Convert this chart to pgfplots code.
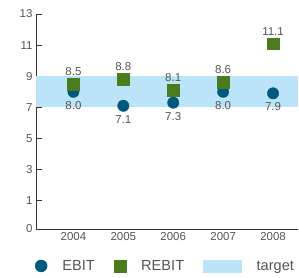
\documentclass[border=0pt]{standalone}
\usepackage{pgfplots}
\pgfplotsset{compat=1.18}
\usepackage{fontspec}
\setmainfont{Liberation Sans}
\definecolor{ebit}{HTML}{00587F}
\definecolor{rebit}{HTML}{4B7B1D}
\definecolor{band}{HTML}{BBE4F8}
\definecolor{txt}{HTML}{555555}
\definecolor{axc}{HTML}{333333}
\begin{document}
\begin{tikzpicture}
\begin{axis}[
  scale only axis,
  width=262pt, height=215pt,
  xmin=-0.75, xmax=4.5,
  ymin=-0.82, ymax=13,
  axis x line*=bottom, axis y line*=left,
  axis line style={-, draw=axc, line width=0.8pt},
  ytick={-0.82,1,3,5,7,9,11,13},
  yticklabels={0,1,3,5,7,9,11,13},
  xtick={0,1,2,3,4},
  xticklabels={2004,2005,2006,2007,2008},
  major x tick style={draw=none},
  extra x ticks={0.5,1.5,2.5,3.5,4.5},
  extra x tick labels={},
  extra x tick style={major tick length=6pt, major tick style={draw=axc, line width=0.8pt}},
  major tick length=6pt,
  tick style={draw=axc, line width=0.8pt},
  tick align=inside,
  ticklabel style={font=\fontsize{11.5}{13}\selectfont, text=txt},
  /pgf/number format/assume math mode=true,
  legend columns=3,
  legend style={draw=none, fill=none, at={(-0.004,-0.172)}, anchor=west,
    inner sep=0pt, outer sep=0pt,
    nodes={inner sep=0pt, outer sep=0pt, anchor=base west},
    font=\fontsize{14.6}{16}\selectfont, text=txt,
    /tikz/every odd column/.append style={column sep=15pt},
    /tikz/every even column/.append style={column sep=19pt}},
  legend cell align=left,
  clip=false,
]
\addplot[fill=band, draw=none, forget plot] coordinates {(-0.75,7) (4.5,7) (4.5,9) (-0.75,9)} -- cycle;
\addplot[only marks, mark=*, mark size=5.7pt, mark options={fill=ebit, draw=ebit},
  legend image code/.code={\fill[ebit] (6pt,4.8pt) circle (6pt);},
  nodes near coords, point meta=explicit,
  every node near coord/.style={anchor=north, yshift=-6pt, font=\fontsize{11.5}{13}\selectfont, text=txt,
  /pgf/number format/.cd, fixed, fixed zerofill, precision=1, assume math mode=true}]
  coordinates {(0,8.0)[8.0] (1,7.1)[7.1] (2,7.3)[7.3] (3,8.0)[8.0] (4,7.9)[7.9]};
\addlegendentry{EBIT}
\addplot[only marks, mark=square*, mark size=5.8pt, mark options={fill=rebit, draw=rebit},
  legend image code/.code={\fill[rebit] (0pt,-1.2pt) rectangle (12pt,10.8pt);},
  nodes near coords, point meta=explicit,
  every node near coord/.style={anchor=south, yshift=5pt, font=\fontsize{11.5}{13}\selectfont, text=txt,
  /pgf/number format/.cd, fixed, fixed zerofill, precision=1, assume math mode=true}]
  coordinates {(0,8.5)[8.5] (1,8.8)[8.8] (2,8.1)[8.1] (3,8.6)[8.6] (4,11.1)[11.1]};
\addlegendentry{REBIT}
\addlegendimage{legend image code/.code={\fill[band] (0pt,-1.2pt) rectangle (38pt,10.8pt);}}
\addlegendentry{target}
\end{axis}
\pgfresetboundingbox
\path (current axis.south west) ++(-36pt,-48pt) rectangle ++(299pt,277pt);
\end{tikzpicture}
\end{document}
